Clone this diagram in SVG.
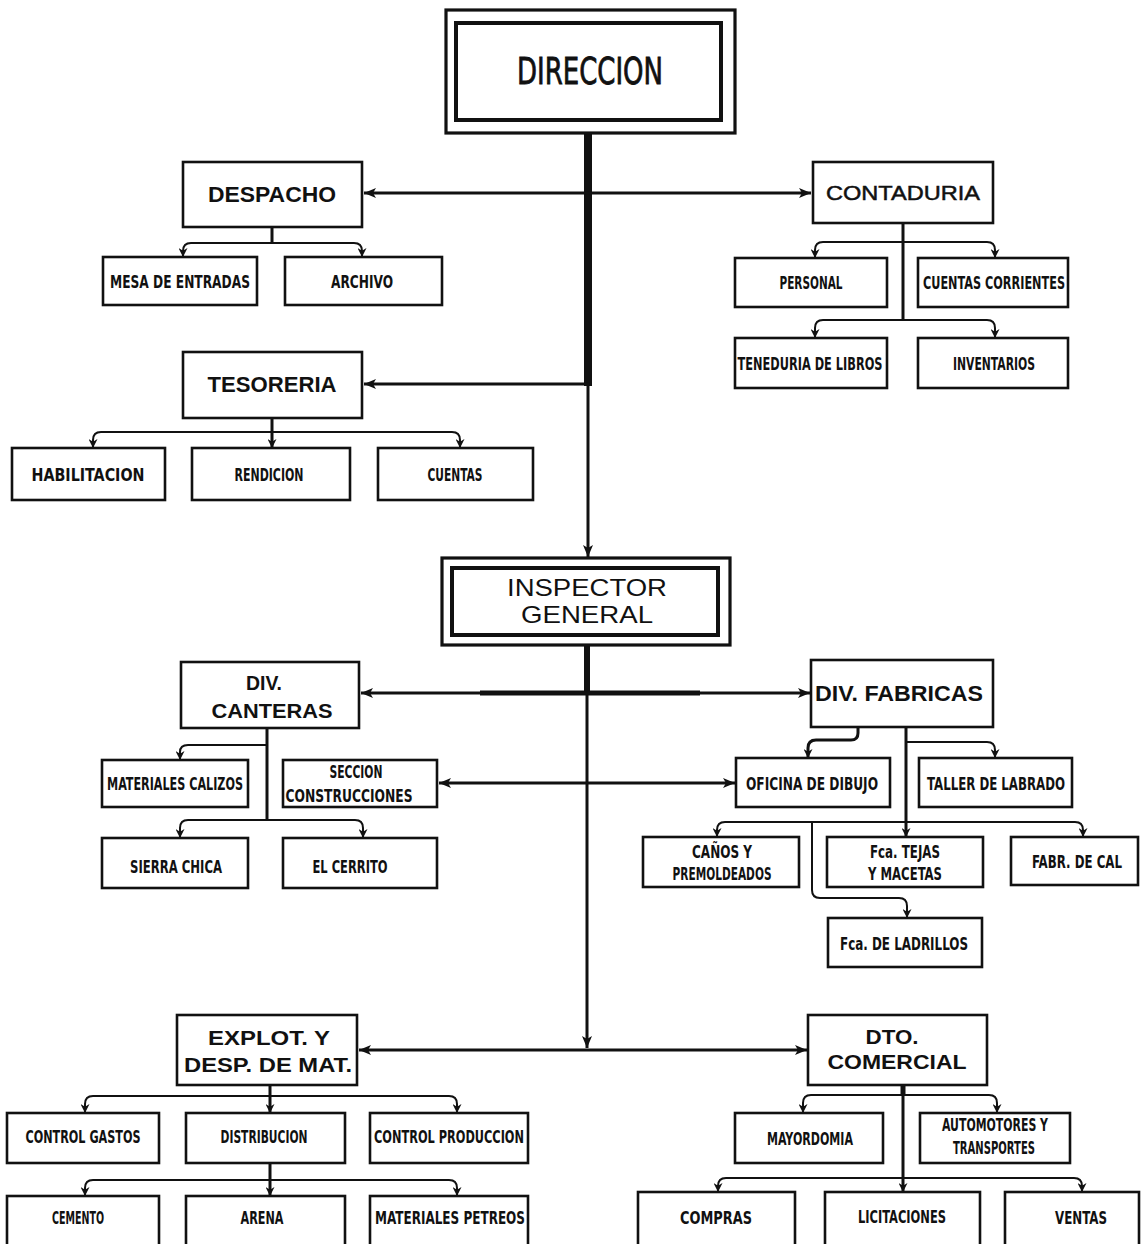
<svg xmlns="http://www.w3.org/2000/svg" width="1141" height="1244" viewBox="0 0 1141 1244">
<style>
.b{fill:#fff;stroke:#111;stroke-width:2.6}
.bb{fill:#fff;stroke:#111;stroke-width:3.2}
.s{font-family:"DejaVu Sans Condensed","DejaVu Sans",sans-serif;font-stretch:condensed;font-weight:bold;font-size:18px;fill:#111;text-anchor:middle}
.L{font-family:"Liberation Sans",Arial,sans-serif;font-weight:bold;fill:#111;text-anchor:middle}
.R{font-family:"Liberation Sans",Arial,sans-serif;fill:#111;text-anchor:middle}
.c{fill:none;stroke:#111;stroke-width:2;stroke-linecap:round}
.m{fill:none;stroke:#111;stroke-width:3}
</style>
<defs>
<marker id="big" viewBox="0 0 12 10" refX="12" refY="5" markerWidth="13" markerHeight="10" markerUnits="userSpaceOnUse" orient="auto-start-reverse"><path d="M0,0 L12,5 L0,10 L3,5 z" fill="#111"/></marker>
<marker id="sm" viewBox="0 0 10 10" refX="10" refY="5" markerWidth="9" markerHeight="9" markerUnits="userSpaceOnUse" orient="auto"><path d="M0,0 L10,5 L0,10 L3,5 z" fill="#111"/></marker>
</defs>
<rect width="1141" height="1244" fill="#fff"/>

<g id="connectors">
  <path d="M588,133 V386" fill="none" stroke="#111" stroke-width="8"/>
  <path d="M588,384 V557" class="m" marker-end="url(#big)"/>
  <path d="M588,193 H364" class="m" stroke-width="3.5" marker-end="url(#big)"/>
  <path d="M588,193 H811" class="m" marker-end="url(#big)"/>
  <path d="M588,384 H364" class="m" marker-end="url(#big)"/>
  <path d="M272,227 V243" class="m"/>
  <path d="M272,243 H191 Q183,243 183,251 V257" class="c" marker-end="url(#sm)"/>
  <path d="M272,243 H354 Q362,243 362,251 V257" class="c" marker-end="url(#sm)"/>
  <path d="M903,223 V320" class="m"/>
  <path d="M903,242 H823 Q815,242 815,250 V258" class="c" marker-end="url(#sm)"/>
  <path d="M903,242 H987 Q995,242 995,250 V258" class="c" marker-end="url(#sm)"/>
  <path d="M903,320 H823 Q815,320 815,328 V338" class="c" marker-end="url(#sm)"/>
  <path d="M903,320 H987 Q995,320 995,328 V338" class="c" marker-end="url(#sm)"/>
  <path d="M272,418 V448" class="m" marker-end="url(#sm)"/>
  <path d="M272,432 H101 Q93,432 93,440 V448" class="c" marker-end="url(#sm)"/>
  <path d="M272,432 H452 Q460,432 460,440 V448" class="c" marker-end="url(#sm)"/>
  <path d="M587,645 V693" fill="none" stroke="#111" stroke-width="6"/>
  <path d="M587,690 V1048" class="m" marker-end="url(#big)"/>
  <path d="M480,693 H700" fill="none" stroke="#111" stroke-width="5"/>
  <path d="M587,693 H361" class="m" marker-end="url(#big)"/>
  <path d="M587,693 H810" class="m" marker-end="url(#big)"/>
  <path d="M439,783 H735" class="m" stroke-width="2.5" marker-start="url(#big)" marker-end="url(#big)"/>
  <path d="M587,1050 H359" class="m" marker-end="url(#big)"/>
  <path d="M587,1050 H807" class="m" marker-end="url(#big)"/>
  <path d="M267,728 V820" class="m" stroke-width="3.5"/>
  <path d="M267,745 H188 Q180,745 180,752 V760" class="c" marker-end="url(#sm)"/>
  <path d="M267,820 H188 Q180,820 180,828 V838" class="c" marker-end="url(#sm)"/>
  <path d="M267,820 H355 Q363,820 363,828 V838" class="c" marker-end="url(#sm)"/>
  <path d="M858,727 V733 Q858,740 851,740 H816 Q808,740 808,748 V758" class="m" marker-end="url(#sm)"/>
  <path d="M906,727 V837" class="m" marker-end="url(#sm)"/>
  <path d="M906,742 H987 Q995,742 995,750 V758" class="c" marker-end="url(#sm)"/>
  <path d="M906,822 H725 Q717,822 717,830 V837" class="c" marker-end="url(#sm)"/>
  <path d="M906,822 H1075 Q1083,822 1083,830 V837" class="c" marker-end="url(#sm)"/>
  <path d="M812,822 V890 Q812,898 820,898 H899 Q907,898 907,906 V918" class="c" stroke-width="2.5" marker-end="url(#sm)"/>
  <path d="M270,1085 V1113" class="m" marker-end="url(#sm)"/>
  <path d="M270,1096 H93 Q85,1096 85,1104 V1113" class="c" marker-end="url(#sm)"/>
  <path d="M270,1096 H449 Q457,1096 457,1104 V1113" class="c" marker-end="url(#sm)"/>
  <path d="M270,1163 V1196" class="m" marker-end="url(#sm)"/>
  <path d="M270,1180 H93 Q85,1180 85,1188 V1196" class="c" marker-end="url(#sm)"/>
  <path d="M270,1180 H449 Q457,1180 457,1188 V1196" class="c" marker-end="url(#sm)"/>
  <path d="M903,1085 V1096" fill="none" stroke="#111" stroke-width="5"/>
  <path d="M903,1094 V1192" class="m" stroke-width="2.5" marker-end="url(#sm)"/>
  <path d="M903,1095 H811 Q803,1095 803,1103 V1113" class="c" marker-end="url(#sm)"/>
  <path d="M903,1095 H989 Q997,1095 997,1103 V1113" class="c" marker-end="url(#sm)"/>
  <path d="M903,1178 H726 Q718,1178 718,1186 V1192" class="c" marker-end="url(#sm)"/>
  <path d="M903,1178 H1074 Q1082,1178 1082,1186 V1192" class="c" marker-end="url(#sm)"/>
</g>

<g id="n-direccion">
  <rect x="446" y="10" width="289" height="123" class="bb"/>
  <rect x="456" y="23" width="265" height="97" fill="none" stroke="#111" stroke-width="4"/>
  <text x="590" y="84" font-family="'DejaVu Sans Condensed','DejaVu Sans',sans-serif" font-size="38" fill="#111" stroke="#111" stroke-width="0.8" text-anchor="middle" textLength="146" lengthAdjust="spacingAndGlyphs">DIRECCION</text>
</g>
<g id="n-despacho"><rect x="183" y="162" width="179" height="65" class="b"/><text x="272" y="202" class="L" font-size="22" textLength="128" lengthAdjust="spacingAndGlyphs">DESPACHO</text></g>
<g id="n-mesa"><rect x="103" y="257" width="154" height="48" class="b"/><text x="180" y="288" class="s" textLength="140" lengthAdjust="spacingAndGlyphs">MESA DE ENTRADAS</text></g>
<g id="n-archivo"><rect x="285" y="257" width="157" height="48" class="b"/><text x="362" y="288" class="s" textLength="62" lengthAdjust="spacingAndGlyphs">ARCHIVO</text></g>
<g id="n-contaduria"><rect x="813" y="162" width="180" height="61" class="b"/><text x="903" y="200" class="R" font-size="21" stroke="#111" stroke-width="0.5" textLength="154" lengthAdjust="spacingAndGlyphs">CONTADURIA</text></g>
<g id="n-personal"><rect x="735" y="258" width="152" height="49" class="b"/><text x="811" y="289" class="s" textLength="63" lengthAdjust="spacingAndGlyphs">PERSONAL</text></g>
<g id="n-cuentas-corrientes"><rect x="918" y="258" width="150" height="49" class="b"/><text x="994" y="289" class="s" textLength="142" lengthAdjust="spacingAndGlyphs">CUENTAS CORRIENTES</text></g>
<g id="n-teneduria"><rect x="735" y="338" width="152" height="50" class="b"/><text x="810" y="370" class="s" textLength="145" lengthAdjust="spacingAndGlyphs">TENEDURIA DE LIBROS</text></g>
<g id="n-inventarios"><rect x="918" y="338" width="150" height="50" class="b"/><text x="994" y="370" class="s" textLength="82" lengthAdjust="spacingAndGlyphs">INVENTARIOS</text></g>
<g id="n-tesoreria"><rect x="183" y="352" width="179" height="66" class="b"/><text x="272" y="392" class="L" font-size="22" textLength="129" lengthAdjust="spacingAndGlyphs">TESORERIA</text></g>
<g id="n-habilitacion"><rect x="12" y="448" width="153" height="52" class="b"/><text x="88" y="481" class="s" textLength="113" lengthAdjust="spacingAndGlyphs">HABILITACION</text></g>
<g id="n-rendicion"><rect x="192" y="448" width="158" height="52" class="b"/><text x="269" y="481" class="s" textLength="69" lengthAdjust="spacingAndGlyphs">RENDICION</text></g>
<g id="n-cuentas"><rect x="378" y="448" width="155" height="52" class="b"/><text x="455" y="481" class="s" textLength="55" lengthAdjust="spacingAndGlyphs">CUENTAS</text></g>
<g id="n-inspector">
  <rect x="442" y="558" width="288" height="87" class="bb"/>
  <rect x="452" y="568" width="266" height="67" fill="none" stroke="#111" stroke-width="4"/>
  <text x="587" y="596" class="R" font-size="24" textLength="160" lengthAdjust="spacingAndGlyphs">INSPECTOR</text>
  <text x="587" y="623" class="R" font-size="24" textLength="132" lengthAdjust="spacingAndGlyphs">GENERAL</text>
</g>
<g id="n-div-canteras"><rect x="181" y="662" width="178" height="66" class="b"/><text x="264" y="690" class="L" font-size="21" textLength="36" lengthAdjust="spacingAndGlyphs">DIV.</text><text x="272" y="718" class="L" font-size="21" textLength="121" lengthAdjust="spacingAndGlyphs">CANTERAS</text></g>
<g id="n-div-fabricas"><rect x="811" y="660" width="182" height="67" class="b"/><text x="899" y="701" class="L" font-size="22" textLength="168" lengthAdjust="spacingAndGlyphs">DIV. FABRICAS</text></g>
<g id="n-materiales-calizos"><rect x="102" y="760" width="146" height="47" class="b"/><text x="175" y="790" class="s" textLength="136" lengthAdjust="spacingAndGlyphs">MATERIALES CALIZOS</text></g>
<g id="n-seccion"><rect x="283" y="760" width="154" height="47" class="b"/><text x="356" y="778" class="s" textLength="53" lengthAdjust="spacingAndGlyphs">SECCION</text><text x="349" y="802" class="s" textLength="127" lengthAdjust="spacingAndGlyphs">CONSTRUCCIONES</text></g>
<g id="n-sierra-chica"><rect x="102" y="838" width="146" height="50" class="b"/><text x="176" y="873" class="s" textLength="92" lengthAdjust="spacingAndGlyphs">SIERRA CHICA</text></g>
<g id="n-el-cerrito"><rect x="283" y="838" width="154" height="50" class="b"/><text x="350" y="873" class="s" textLength="75" lengthAdjust="spacingAndGlyphs">EL CERRITO</text></g>
<g id="n-oficina"><rect x="736" y="758" width="154" height="49" class="b"/><text x="812" y="790" class="s" textLength="132" lengthAdjust="spacingAndGlyphs">OFICINA DE DIBUJO</text></g>
<g id="n-taller"><rect x="919" y="758" width="153" height="49" class="b"/><text x="996" y="790" class="s" textLength="138" lengthAdjust="spacingAndGlyphs">TALLER DE LABRADO</text></g>
<g id="n-canos"><rect x="643" y="837" width="156" height="50" class="b"/><text x="722" y="858" class="s" textLength="60" lengthAdjust="spacingAndGlyphs">CAÑOS Y</text><text x="722" y="880" class="s" textLength="99" lengthAdjust="spacingAndGlyphs">PREMOLDEADOS</text></g>
<g id="n-tejas"><rect x="827" y="837" width="156" height="50" class="b"/><text x="905" y="858" class="s" textLength="70" lengthAdjust="spacingAndGlyphs">Fca. TEJAS</text><text x="905" y="880" class="s" textLength="74" lengthAdjust="spacingAndGlyphs">Y MACETAS</text></g>
<g id="n-fabr-cal"><rect x="1011" y="837" width="127" height="48" class="b"/><text transform="translate(1077,868) scale(1,1.2)" x="0" y="0" class="s" style="font-size:15px" textLength="90" lengthAdjust="spacingAndGlyphs">FABR. DE CAL</text></g>
<g id="n-ladrillos"><rect x="828" y="918" width="154" height="49" class="b"/><text x="904" y="950" class="s" textLength="128" lengthAdjust="spacingAndGlyphs">Fca. DE LADRILLOS</text></g>
<g id="n-explot"><rect x="177" y="1015" width="180" height="70" class="b"/><text x="269" y="1045" class="L" font-size="20" textLength="122" lengthAdjust="spacingAndGlyphs">EXPLOT. Y</text><text x="268" y="1072" class="L" font-size="20" textLength="168" lengthAdjust="spacingAndGlyphs">DESP. DE MAT.</text></g>
<g id="n-dto"><rect x="808" y="1015" width="179" height="70" class="b"/><text x="892" y="1044" class="L" font-size="20" textLength="53" lengthAdjust="spacingAndGlyphs">DTO.</text><text x="897" y="1069" class="L" font-size="20" textLength="139" lengthAdjust="spacingAndGlyphs">COMERCIAL</text></g>
<g id="n-control-gastos"><rect x="7" y="1113" width="152" height="50" class="b"/><text x="83" y="1143" class="s" textLength="115" lengthAdjust="spacingAndGlyphs">CONTROL GASTOS</text></g>
<g id="n-distribucion"><rect x="186" y="1113" width="159" height="50" class="b"/><text x="264" y="1143" class="s" textLength="87" lengthAdjust="spacingAndGlyphs">DISTRIBUCION</text></g>
<g id="n-control-produccion"><rect x="370" y="1113" width="158" height="50" class="b"/><text x="449" y="1143" class="s" textLength="150" lengthAdjust="spacingAndGlyphs">CONTROL PRODUCCION</text></g>
<g id="n-cemento"><rect x="7" y="1196" width="152" height="54" class="b"/><text x="78" y="1224" class="s" textLength="52" lengthAdjust="spacingAndGlyphs">CEMENTO</text></g>
<g id="n-arena"><rect x="186" y="1196" width="159" height="54" class="b"/><text x="262" y="1224" class="s" textLength="43" lengthAdjust="spacingAndGlyphs">ARENA</text></g>
<g id="n-petreos"><rect x="370" y="1196" width="158" height="54" class="b"/><text x="450" y="1224" class="s" textLength="150" lengthAdjust="spacingAndGlyphs">MATERIALES PETREOS</text></g>
<g id="n-mayordomia"><rect x="735" y="1113" width="148" height="50" class="b"/><text x="810" y="1145" class="s" textLength="86" lengthAdjust="spacingAndGlyphs">MAYORDOMIA</text></g>
<g id="n-automotores"><rect x="920" y="1113" width="150" height="50" class="b"/><text x="995" y="1131" class="s" textLength="106" lengthAdjust="spacingAndGlyphs">AUTOMOTORES Y</text><text x="994" y="1154" class="s" textLength="82" lengthAdjust="spacingAndGlyphs">TRANSPORTES</text></g>
<g id="n-compras"><rect x="638" y="1192" width="157" height="58" class="b"/><text x="716" y="1224" class="s" textLength="72" lengthAdjust="spacingAndGlyphs">COMPRAS</text></g>
<g id="n-licitaciones"><rect x="825" y="1192" width="155" height="58" class="b"/><text x="902" y="1223" class="s" textLength="88" lengthAdjust="spacingAndGlyphs">LICITACIONES</text></g>
<g id="n-ventas"><rect x="1005" y="1192" width="134" height="58" class="b"/><text x="1081" y="1224" class="s" textLength="52" lengthAdjust="spacingAndGlyphs">VENTAS</text></g>
</svg>
